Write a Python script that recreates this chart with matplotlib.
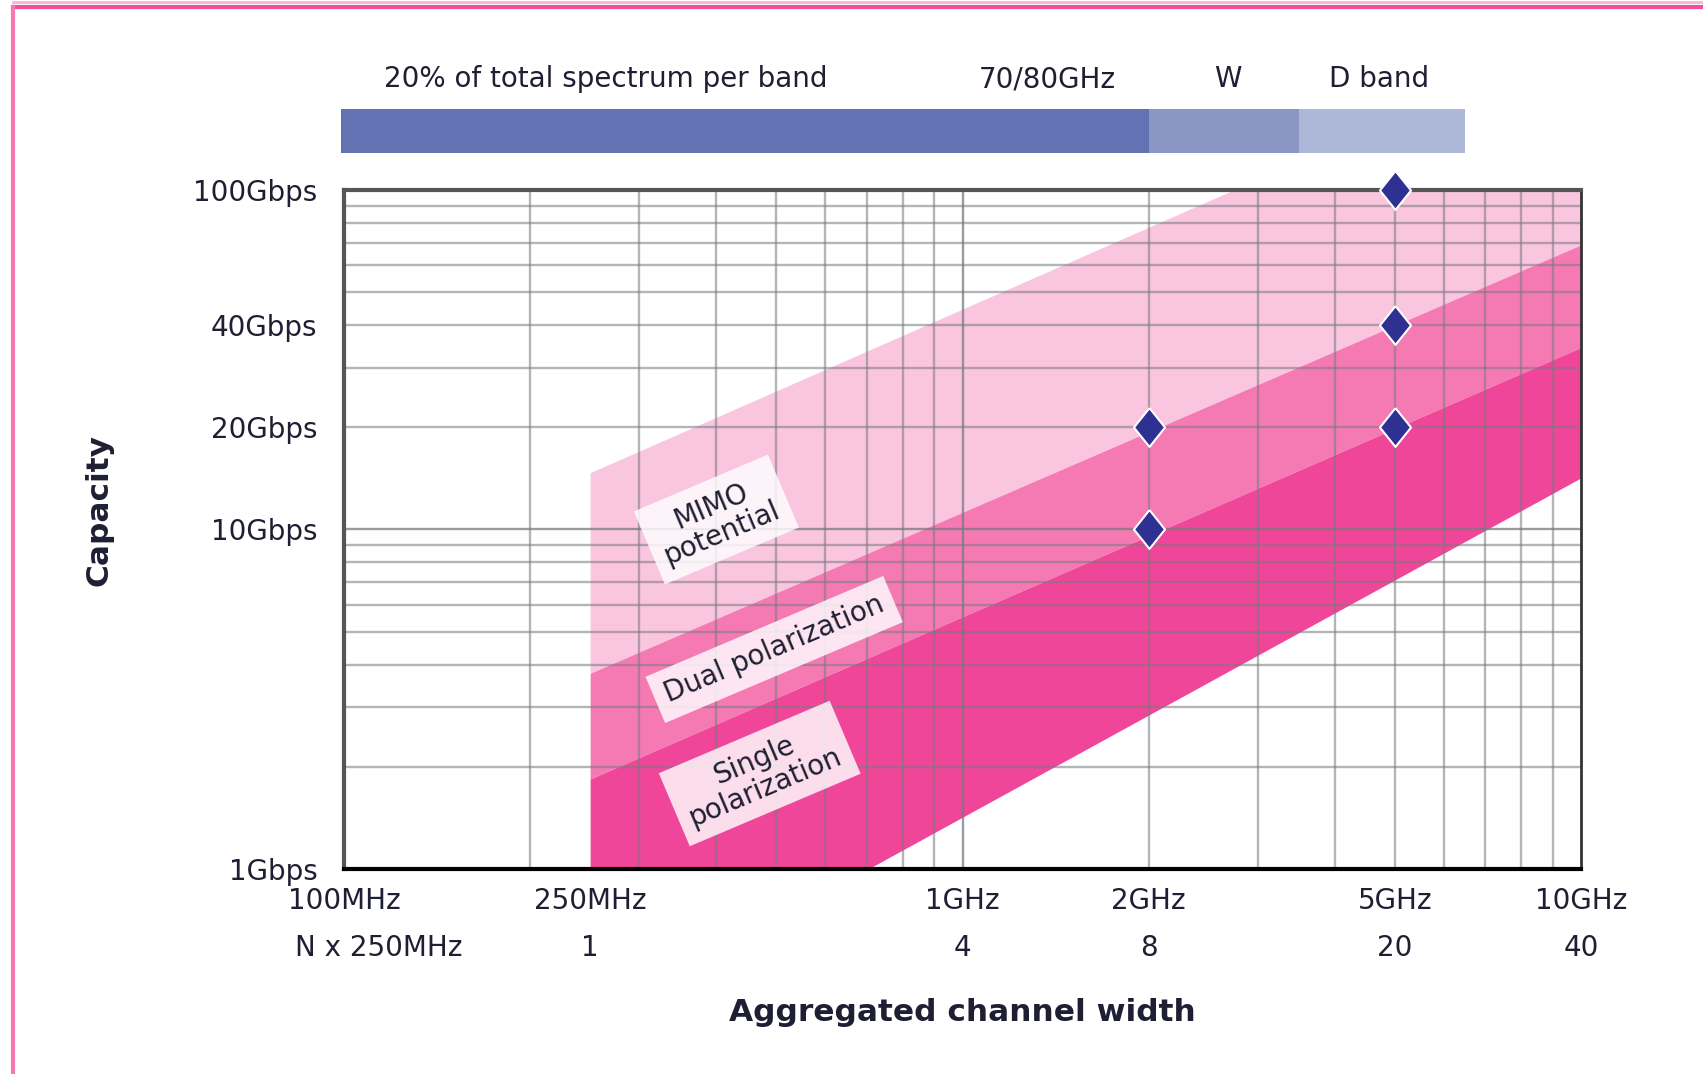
import matplotlib.pyplot as plt
import matplotlib.transforms as mtransforms
from matplotlib.lines import Line2D

# channel width in GHz, capacity in Gbps
band_x = [0.25, 10]
single_low = [0.355, 14.2]
single_high = [1.84, 34.4]
dual_high = [3.77, 69.0]
mimo_high = [14.7, 282.0]

point_x = [2, 2, 5, 5, 5]
point_y = [10, 20, 20, 40, 100]

xtick_vals = [0.1, 0.25, 1, 2, 5, 10]
xtick_labels = ['100MHz', '250MHz', '1GHz', '2GHz', '5GHz', '10GHz']
n_vals = [0.25, 1, 2, 5, 10]
n_labels = ['1', '4', '8', '20', '40']
ytick_vals = [1, 10, 20, 40, 100]
ytick_labels = ['1Gbps', '10Gbps', '20Gbps', '40Gbps', '100Gbps']

spectrum_edges = [0.099, 2.0, 3.5, 6.5]
spectrum_colors = ['#6272b2', '#8a96c4', '#adb7d8']
spectrum_labels = ['20% of total spectrum per band', '70/80GHz', 'W', 'D band']
spectrum_label_x = [0.265, 1.37, 2.68, 4.71]

band_labels = ['MIMO\npotential', 'Dual polarization', 'Single\npolarization']
band_label_x = [0.40, 0.496, 0.47]
band_label_y = [10.7, 4.43, 1.91]

plt.rcParams['font.family'] = ['DejaVu Sans']
txt = '#1f1f33'
fs = 20

fig = plt.figure(figsize=(17.03, 10.74), dpi=100)
ax = fig.add_axes([0.202, 0.191, 0.7264, 0.632])
ax.set_xscale('log')
ax.set_yscale('log')
ax.set_xlim(0.1, 10)
ax.set_ylim(1, 100)

# capacity bands
ax.fill_between(band_x, dual_high, mimo_high, color='#f9c5df', lw=0, zorder=1)
ax.fill_between(band_x, single_high, dual_high, color='#f57ab3', lw=0, zorder=1)
ax.fill_between(band_x, single_low, single_high, color='#f04699', lw=0, zorder=1)

# log grid (1..9 per decade, no line at 250MHz)
for dec in [0.1, 1]:
    for k in range(1, 10):
        ax.axvline(dec * k, color='#767a80', alpha=0.75 if k == 1 else 0.55,
                   lw=1.7, zorder=2.5)
for dec in [1, 10]:
    for k in range(1, 10):
        ax.axhline(dec * k, color='#767a80', alpha=0.75 if k == 1 else 0.55,
                   lw=1.7, zorder=2.5)
ax.tick_params(which='both', length=0)

ax.set_xticks(xtick_vals)
ax.set_xticklabels(xtick_labels, fontsize=fs, color=txt)
ax.xaxis.set_minor_formatter(plt.NullFormatter())
ax.set_yticks(ytick_vals)
ax.set_yticklabels(ytick_labels, fontsize=fs, color=txt)
ax.yaxis.set_minor_formatter(plt.NullFormatter())
ax.tick_params(axis='x', pad=13)
ax.tick_params(axis='y', pad=19)

for side in ['top', 'left']:
    ax.spines[side].set_color('#555555')
    ax.spines[side].set_linewidth(3)
ax.spines['right'].set_color('#333333')
ax.spines['right'].set_linewidth(2)
ax.spines['bottom'].set_color('black')
ax.spines['bottom'].set_linewidth(3)
for s in ax.spines.values():
    s.set_zorder(3)

# diamonds
diamond = [(0, 1), (0.8, 0), (0, -1), (-0.8, 0), (0, 1)]
ax.plot(point_x, point_y, linestyle='none', marker=diamond, markersize=28,
        color='#2e3192', markeredgecolor='white', markeredgewidth=1.5,
        zorder=5, clip_on=False)

# band labels
for lab, x, y in zip(band_labels, band_label_x, band_label_y):
    ax.text(x, y, lab, fontsize=20, color=txt, rotation=23, ha='center', va='center',
            rotation_mode='anchor', linespacing=1.05, zorder=4,
            bbox=dict(boxstyle='square,pad=0.4', facecolor='white', alpha=0.82,
                      edgecolor='none'))

# N x 250MHz row
trans = mtransforms.blended_transform_factory(ax.transData, ax.transAxes)
ax.text(0.0832, -0.117, 'N x 250MHz', transform=trans, fontsize=fs, color=txt,
        ha='left', va='center')
for v, lab in zip(n_vals, n_labels):
    ax.text(v, -0.117, lab, transform=trans, fontsize=fs, color=txt,
            ha='center', va='center')

# spectrum bar above the plot
for i, c in enumerate(spectrum_colors):
    ax.fill_between([spectrum_edges[i], spectrum_edges[i + 1]], 1.054, 1.12,
                    transform=trans, color=c, lw=0, clip_on=False)
for lab, x in zip(spectrum_labels, spectrum_label_x):
    ax.text(x, 1.163, lab, transform=trans, fontsize=fs, color=txt,
            ha='center', va='center')

ax.set_xlabel('Aggregated channel width', fontsize=22.5, fontweight='bold', color=txt)
ax.xaxis.set_label_coords(0.5, -0.19)
ax.set_ylabel('Capacity', fontsize=22.5, fontweight='bold', color=txt)
ax.yaxis.set_label_coords(-0.186, 0.528)

# pink frame
fig.add_artist(Line2D([0.0075, 1], [0.9935, 0.9935], color='#f0509a', lw=3))
fig.add_artist(Line2D([0.0075, 1], [0.998, 0.998], color='#f7b6d4', lw=2))
fig.add_artist(Line2D([0.0075, 0.0075], [0, 0.9935], color='#f57ab3', lw=3))

fig.savefig('out.png', dpi=100)
